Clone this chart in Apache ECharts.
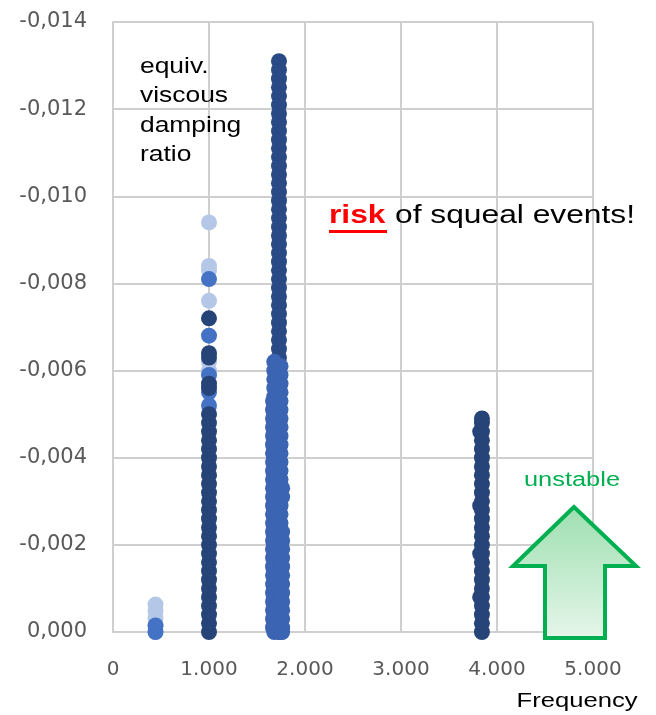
<!DOCTYPE html>
<html>
<head>
<meta charset="utf-8">
<script src="https://cdn.jsdelivr.net/npm/echarts@6/dist/echarts.min.js"></script>
<style>
  html, body { margin: 0; padding: 0; background: #fff; }
  #main { width: 656px; height: 715px; }
</style>
</head>
<body>
<div id="main"></div>
<script>
// axis ticks
const xTicks = [0, 1000, 2000, 3000, 4000, 5000]
const yTicks = [0, -0.002, -0.004, -0.006, -0.008, -0.010, -0.012, -0.014]

// light blue points [frequency, damping]
const lightPts = [
  [443, 0], [443, -0.00016], [443, -0.00032], [443, -0.00048], [443, -0.00063],
  [1000, -0.0094], [1000, -0.0084], [1000, -0.0083], [1000, -0.0076],
  [1000, -0.0062], [1000, -0.0060]
]

// medium blue points
const mediumPts = [
  [443, 0], [443, -0.00015],
  [1000, -0.0081], [1000, -0.0068], [1000, -0.0059], [1000, -0.0055], [1000, -0.0052]
]

// tall navy column near 1.7 kHz
const tallFreq = 1729
const tallVals = [-0.0131, -0.0129, -0.0127, -0.0125, -0.0123, -0.0121, -0.0119, -0.0117,
  -0.0115, -0.0113, -0.0111, -0.0109, -0.0107, -0.0105, -0.0103, -0.0101, -0.0099, -0.0097,
  -0.0095, -0.0093, -0.0091, -0.0089, -0.0087, -0.0085, -0.0083, -0.0081, -0.0079, -0.0077,
  -0.0075, -0.0073, -0.0071, -0.0069, -0.0067, -0.0065, -0.0063, -0.0061, -0.0040, -0.0020, 0]

// wide medium cluster near 1.7 kHz
const clusterA = { freq: 1680, vals: [-0.0062, -0.0060, -0.0058, -0.0056, -0.0054, -0.0052,
  -0.0050, -0.0048, -0.0046, -0.0044, -0.0042, -0.0040, -0.0038, -0.0036, -0.0034, -0.0032,
  -0.0030, -0.0028, -0.0026, -0.0024, -0.0022, -0.0020, -0.0018, -0.0016, -0.0014, -0.0012,
  -0.0010, -0.0008, -0.0006, -0.0004, -0.0002, 0] }
const clusterB = { freq: 1667, vals: [-0.0053, -0.0051, -0.0049, -0.0047, -0.0045, -0.0043,
  -0.0041, -0.0039, -0.0037, -0.0035, -0.0033, -0.0031, -0.0029, -0.0027, -0.0025, -0.0023,
  -0.0021, -0.0019, -0.0017, -0.0015, -0.0013, -0.0011, -0.0009, -0.0007, -0.0005, -0.0003,
  -0.0001] }
const clusterC = { freq: 1745, vals: [-0.0061, -0.0059, -0.0057, -0.0055, -0.0053, -0.0051,
  -0.0049, -0.0047, -0.0045, -0.0043, -0.0041, -0.0039, -0.0037, -0.0035, -0.0033, -0.0031,
  -0.0029, -0.0027, -0.0025, -0.0023, -0.0021, -0.0019, -0.0017, -0.0015, -0.0013, -0.0011,
  -0.0009, -0.0007, -0.0005, -0.0003, -0.0001, 0] }
const clusterD = { freq: 1762, vals: [-0.0033, -0.0031, -0.0023, -0.0021, -0.0019, -0.0017,
  -0.0015, -0.0013, -0.0011, -0.0009, -0.0007, -0.0005, -0.0003, -0.0001, 0] }

// dark navy points
const darkCol1000 = [0, -0.0002, -0.0004, -0.0006, -0.0008, -0.0010, -0.0012, -0.0014, -0.0016,
  -0.0018, -0.0020, -0.0022, -0.0024, -0.0026, -0.0028, -0.0030, -0.0032, -0.0034, -0.0036,
  -0.0038, -0.0040, -0.0042, -0.0044, -0.0046, -0.0048, -0.0050,
  -0.0056, -0.0057, -0.0063, -0.0064, -0.0072]
const darkCol3843 = [0, -0.0002, -0.0004, -0.0006, -0.0008, -0.0010, -0.0012, -0.0014, -0.0016,
  -0.0018, -0.0020, -0.0022, -0.0024, -0.0026, -0.0028, -0.0030, -0.0032, -0.0034, -0.0036,
  -0.0038, -0.0040, -0.0042, -0.0044, -0.0046, -0.0048, -0.0049]
const darkExtra = [[3825, -0.0046], [3825, -0.0029], [3825, -0.0018], [3825, -0.0008]]

const col = (f, vals) => vals.map(v => [f, v])

const chart = echarts.init(document.getElementById('main'))

const gridLine = { lineStyle: { color: '#cfcfcf', width: 2 } }
const sans = 'Liberation Sans'

const option = {
  animation: false,
  grid: { left: 113, right: 63, top: 22, bottom: 83 },
  xAxis: {
    type: 'value',
    min: xTicks[0], max: xTicks[xTicks.length - 1], interval: 1000,
    axisLine: { show: true, lineStyle: { color: '#cfcfcf', width: 2 } },
    axisTick: { show: false },
    splitLine: Object.assign({ show: true }, gridLine),
    axisLabel: {
      margin: 28,
      color: '#595959',
      fontFamily: 'DejaVu Sans',
      fontSize: 20,
      formatter: v => v === 0 ? '0' : (v / 1000) + '.000'
    }
  },
  yAxis: {
    type: 'value',
    inverse: true,
    min: yTicks[yTicks.length - 1], max: yTicks[0], interval: 0.002,
    axisLine: { show: true, lineStyle: { color: '#cfcfcf', width: 2 } },
    axisTick: { show: false },
    splitLine: Object.assign({ show: true }, gridLine),
    axisLabel: {
      margin: 26,
      color: '#595959',
      fontFamily: 'DejaVu Sans',
      fontSize: 21,
      formatter: v => v.toFixed(3).replace('.', ',')
    }
  },
  series: [
    { type: 'scatter', symbolSize: 16, itemStyle: { color: '#B4C7E7', opacity: 1 }, data: lightPts },
    { type: 'scatter', symbolSize: 16, itemStyle: { color: '#2A4A85', opacity: 1 }, data: col(tallFreq, tallVals) },
    { type: 'scatter', symbolSize: 16, itemStyle: { color: '#3B64B2', opacity: 1 },
      data: [].concat(col(clusterA.freq, clusterA.vals), col(clusterB.freq, clusterB.vals),
        col(clusterC.freq, clusterC.vals), col(clusterD.freq, clusterD.vals)) },
    { type: 'scatter', symbolSize: 16, itemStyle: { color: '#4472C4', opacity: 1 }, data: mediumPts },
    { type: 'scatter', symbolSize: 16, itemStyle: { color: '#264478', opacity: 1 },
      data: [].concat(col(1000, darkCol1000), col(3843, darkCol3843), darkExtra) }
  ],
  graphic: [
    {
      type: 'text', x: 140, y: 52, scaleX: 1.2, z: 100,
      style: { text: 'equiv.\nviscous\ndamping\nratio', fontFamily: sans, fontSize: 22, lineHeight: 29.5, fill: '#000', verticalAlign: 'top' }
    },
    {
      type: 'text', x: 329, y: 216, scaleX: 1.27, z: 100,
      style: { text: 'risk', fontFamily: sans, fontSize: 25, fontWeight: 'bold', fill: '#ff0000', verticalAlign: 'middle' }
    },
    {
      type: 'text', x: 395, y: 216, scaleX: 1.27, z: 100,
      style: { text: 'of squeal events!', fontFamily: sans, fontSize: 25, fill: '#000', verticalAlign: 'middle' }
    },
    { type: 'rect', z: 100, shape: { x: 329, y: 230, width: 58, height: 3 }, style: { fill: '#ff0000' } },
    {
      type: 'text', x: 572, y: 480, scaleX: 1.27, z: 100,
      style: { text: 'unstable', fontFamily: sans, fontSize: 20, fill: '#00b050', align: 'center', verticalAlign: 'middle' }
    },
    {
      type: 'polygon', z: 100,
      shape: { points: [[574, 507], [513, 566], [545, 566], [545, 638], [605, 638], [605, 566], [636, 566]] },
      style: {
        stroke: '#00b050', lineWidth: 4, lineJoin: 'miter',
        fill: new echarts.graphic.LinearGradient(0, 0, 0, 1, [
          { offset: 0, color: '#9ddfb0' },
          { offset: 1, color: '#e6f6ea' }
        ])
      }
    },
    {
      type: 'text', x: 577, y: 701, scaleX: 1.28, z: 100,
      style: { text: 'Frequency', fontFamily: sans, fontSize: 20, fill: '#000', align: 'center', verticalAlign: 'middle' }
    }
  ]
}

chart.setOption(option)
</script>
</body>
</html>
